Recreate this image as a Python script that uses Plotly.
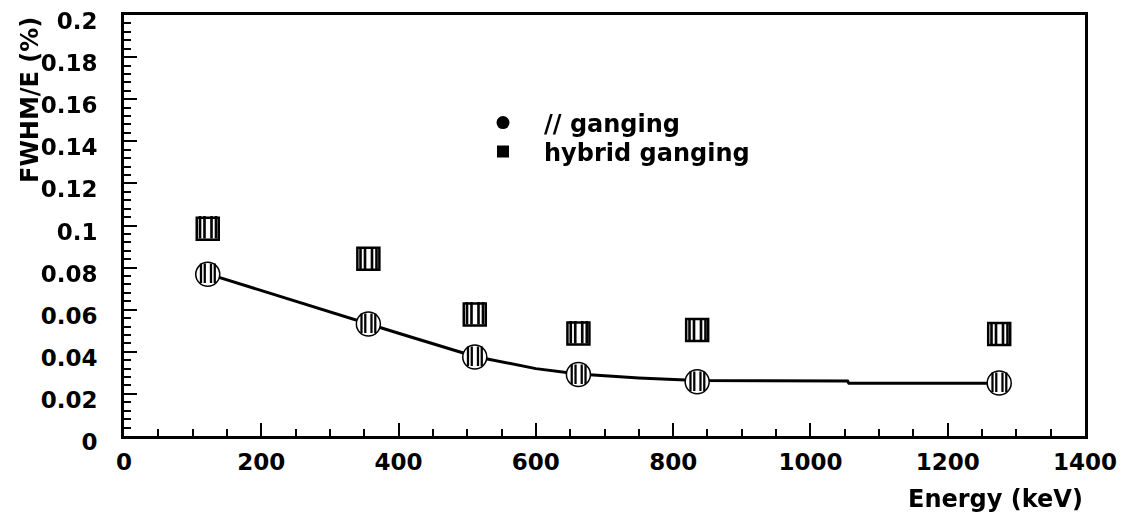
import plotly.graph_objects as go

# Data
energy = [122, 356, 511, 662, 835, 1275]
parallel_ganging = [0.0768, 0.0532, 0.0375, 0.0292, 0.0258, 0.0252]
hybrid_ganging = [0.0985, 0.0842, 0.0577, 0.0487, 0.0504, 0.0484]

fit_energy = [122, 200, 300, 356, 400, 511, 600, 662, 750, 835, 1054, 1056, 1275]
fit_value = [0.0770, 0.0690, 0.0588, 0.0532, 0.0488, 0.0378, 0.0320, 0.0294, 0.0276, 0.0264, 0.0261, 0.0251, 0.0251]

x_ticks = [0, 200, 400, 600, 800, 1000, 1200, 1400]
y_ticks = [0, 0.02, 0.04, 0.06, 0.08, 0.1, 0.12, 0.14, 0.16, 0.18, 0.2]
y_ticktext = ["0", "0.02", "0.04", "0.06", "0.08", "0.1", "0.12", "0.14", "0.16", "0.18", "0.2"]

FONT = "DejaVu Sans"
tickfont = dict(family=FONT, size=23, color="black", weight="bold")
legfont = dict(family=FONT, size=24, color="black", weight="bold")

fig = go.Figure()

# fit line
fig.add_trace(go.Scatter(x=fit_energy, y=fit_value, mode="lines",
                         line=dict(color="black", width=3), showlegend=False, hoverinfo="skip"))

# hybrid ganging markers (square with vertical stripes)
fig.add_trace(go.Scatter(x=energy, y=hybrid_ganging, mode="markers",
                         marker=dict(symbol="square", size=22, color="white",
                                     line=dict(color="black", width=2.5)),
                         showlegend=False))
fig.add_trace(go.Scatter(x=energy, y=hybrid_ganging, mode="text", opacity=0.99,
                         text=["\u2225\u2225"] * len(energy), textposition="middle center",
                         textfont=dict(family=FONT, size=23, color="black", weight="bold"),
                         showlegend=False, hoverinfo="skip"))

# parallel ganging markers (circle with vertical stripes)
fig.add_trace(go.Scatter(x=energy, y=parallel_ganging, mode="markers",
                         marker=dict(symbol="circle", size=24, color="white",
                                     line=dict(color="black", width=1.5)),
                         showlegend=False))
fig.add_trace(go.Scatter(x=energy, y=parallel_ganging, mode="text", opacity=0.99,
                         text=["\u2225\u2225"] * len(energy), textposition="middle center",
                         textfont=dict(family=FONT, size=20, color="black", weight="bold"),
                         showlegend=False, hoverinfo="skip"))

# legend-only entries
fig.add_trace(go.Scatter(x=[None], y=[None], mode="markers", name="// ganging", legend="legend",
                         marker=dict(symbol="circle", size=13, color="black")))
fig.add_trace(go.Scatter(x=[None], y=[None], mode="markers", name="hybrid ganging", legend="legend2",
                         marker=dict(symbol="square", size=12, color="black")))

legend_common = dict(xanchor="left", yanchor="middle", bgcolor="rgba(0,0,0,0)",
                     font=legfont, itemwidth=72, borderwidth=0)

fig.update_layout(
    width=1124, height=516,
    margin=dict(l=124, r=39, t=15, b=80, autoexpand=False),
    paper_bgcolor="white", plot_bgcolor="white",
    showlegend=True,
    legend=dict(x=(462 - 124) / 961, y=(436 - 123) / 421, **legend_common),
    legend2=dict(x=(462 - 124) / 961, y=(436 - 152) / 421, **legend_common),
    annotations=[
        dict(text="Energy (keV)", xref="paper", yref="paper", x=1.0, y=(436 - 499) / 421,
             xanchor="right", yanchor="middle", showarrow=False,
             font=dict(family=FONT, size=24, color="black", weight="bold")),
        dict(text="FWHM/E (%)", xref="paper", yref="paper", x=(30 - 124) / 961, y=(436 - 100) / 421,
             xanchor="center", yanchor="middle", textangle=-90, showarrow=False,
             font=dict(family=FONT, size=24, color="black", weight="bold")),
    ],
)

fig.update_xaxes(range=[0, 1400], tickvals=x_ticks, ticks="inside", ticklen=13, tickwidth=2,
                 tickcolor="black", showline=True, linecolor="black", linewidth=3, mirror=True,
                 showgrid=False, zeroline=False, tickfont=tickfont, ticklabelstandoff=3,
                 automargin=False,
                 minor=dict(dtick=50, ticks="inside", ticklen=7, tickwidth=2, tickcolor="black", showgrid=False))
fig.update_yaxes(range=[0, 0.2], tickvals=y_ticks, ticktext=y_ticktext, ticks="inside", ticklen=13,
                 tickwidth=2, tickcolor="black", showline=True, linecolor="black", linewidth=3, mirror=True,
                 showgrid=False, zeroline=False, tickfont=tickfont, ticklabelstandoff=19,
                 ticklabelshift=6, automargin=False,
                 minor=dict(dtick=0.004, ticks="inside", ticklen=7, tickwidth=2, tickcolor="black", showgrid=False))

fig.write_html("out.html")
